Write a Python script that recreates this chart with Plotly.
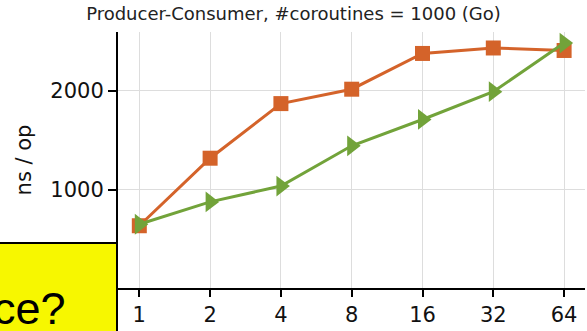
import plotly.graph_objects as go

threads = [1, 2, 4, 8, 16, 32, 64]
tick_labels = ["1", "2", "4", "8", "16", "32", "64"]
series_orange = [640, 1320, 1870, 2015, 2375, 2430, 2405]
series_green = [655, 880, 1040, 1445, 1710, 1990, 2480]
title_text = "Producer-Consumer, #coroutines = 1000 (Go)"
y_title = "ns / op"
overlay_text = "ce?"

W, H = 587, 331
L, R, T, B = 118, 2, 32, 43
pw = W - L - R
ph = H - T - B

def px_x(p):
    return (p - L) / pw

def px_y(p):
    return 1 - (p - T) / ph

fig = go.Figure()
fig.add_trace(go.Scatter(
    x=threads, y=series_orange, mode="lines+markers",
    line=dict(color="#d4632a", width=3),
    marker=dict(symbol="square", size=15, color="#d4632a"),
    showlegend=False,
))
fig.add_trace(go.Scatter(
    x=threads, y=series_green, mode="lines+markers",
    line=dict(color="#72a33a", width=3),
    marker=dict(symbol="triangle-right", size=18, color="#72a33a"),
    showlegend=False,
))

fig.update_layout(
    width=W, height=H,
    margin=dict(l=L, r=R, t=T, b=B, pad=0),
    paper_bgcolor="white", plot_bgcolor="white",
    font=dict(family="DejaVu Sans", color="black", size=21),
    title=dict(text=title_text, x=px_x((L + W - R) / 2), xanchor="center",
               y=1 - 14 / H, yanchor="middle",
               font=dict(family="DejaVu Sans", size=18, color="#222222")),
)
fig.update_xaxes(
    type="log", range=[-0.0906, 1.895],
    tickvals=threads, ticktext=tick_labels,
    showgrid=True, gridcolor="#dddddd", gridwidth=1,
    showline=True, linecolor="black", linewidth=2,
    ticks="outside", ticklen=7, tickwidth=1.5, tickcolor="black",
    tickfont=dict(size=21, family="DejaVu Sans", color="#111111"),
    zeroline=False,
)
fig.update_yaxes(
    range=[13, 2591],
    tickvals=[1000, 2000], ticktext=["1000", "2000"],
    showgrid=True, gridcolor="#dddddd", gridwidth=1,
    showline=True, linecolor="black", linewidth=2,
    ticks="outside", ticklen=8, tickwidth=1.5, tickcolor="black",
    tickfont=dict(size=21, family="DejaVu Sans", color="#111111"),
    zeroline=False,
    title=dict(text=y_title, font=dict(size=21, family="DejaVu Sans", color="#111111"), standoff=13),
)

# yellow overlay box (slide callout) at bottom-left
fig.add_shape(type="rect", xref="paper", yref="paper",
              x0=px_x(-5), x1=px_x(117), y0=px_y(H + 5), y1=px_y(243),
              fillcolor="#f7f700", line=dict(color="black", width=2), layer="above")
fig.add_annotation(xref="paper", yref="paper", x=px_x(-9), y=px_y(327),
                   xanchor="left", yanchor="bottom", text=overlay_text, showarrow=False,
                   font=dict(family="Liberation Sans", size=45, color="black"),
                   yshift=-9)

fig.write_html("out.html")
